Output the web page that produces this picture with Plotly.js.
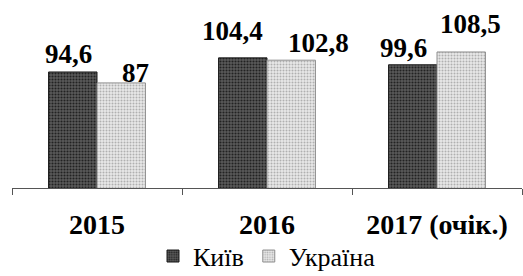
<!DOCTYPE html>
<html><head><meta charset="utf-8">
<script src="https://cdn.plot.ly/plotly-3.0.1.min.js"></script>
<style>html,body{margin:0;padding:0;background:#fff}#chart{width:523px;height:276px}</style>
</head><body><div id="chart"></div>
<script>
const categories = ['2015', '2016', '2017 (очік.)'];
const kyivValues = [94.6, 104.4, 99.6];
const ukraineValues = [87, 102.8, 108.5];
const kyivLabels = ['94,6', '104,4', '99,6'];
const ukraineLabels = ['87', '102,8', '108,5'];
const seriesNames = ['Київ', 'Україна'];
// label nudges (pixels) mimicking the hand-placed labels of the original
const kyivShiftX = [-29, -35, -34];
const kyivShiftY = [18, 27, 17];
const ukraineShiftX = [38, 51, 33];
const ukraineShiftY = [10, 17, 28];

const serif = 'Liberation Serif';

const traces = [
  {type: 'bar', name: seriesNames[0], x: categories, y: kyivValues,
   marker: {color: '#4a4a4a', line: {color: '#1a1a1a', width: 1},
            pattern: {shape: '.', bgcolor: '#5a5a5a', fgcolor: '#222222', size: 3, solidity: 0.4}},
   hoverinfo: 'none'},
  {type: 'bar', name: seriesNames[1], x: categories, y: ukraineValues,
   marker: {color: '#dcdcdc', line: {color: '#8f8f8f', width: 1},
            pattern: {shape: '.', bgcolor: '#e9e9e9', fgcolor: '#b0b0b0', size: 3, solidity: 0.35}},
   hoverinfo: 'none'}
];

const annotations = [];
categories.forEach((c, i) => {
  annotations.push({x: i, y: kyivValues[i], xref: 'x', yref: 'y', text: kyivLabels[i],
    showarrow: false, xshift: kyivShiftX[i], yshift: kyivShiftY[i], yanchor: 'middle',
    font: {family: serif, size: 27, color: '#000', weight: 'bold'}});
  annotations.push({x: i, y: ukraineValues[i], xref: 'x', yref: 'y', text: ukraineLabels[i],
    showarrow: false, xshift: ukraineShiftX[i], yshift: ukraineShiftY[i], yanchor: 'middle',
    font: {family: serif, size: 27, color: '#000', weight: 'bold'}});
});

const layout = {
  width: 523, height: 276,
  margin: {l: 12, r: 1, t: 0, b: 88},
  paper_bgcolor: '#fff', plot_bgcolor: '#fff',
  barmode: 'group', bargap: 0.43, bargroupgap: 0,
  showlegend: true,
  legend: {orientation: 'h', x: 0.5, xanchor: 'center', yref: 'container', y: 0.072, yanchor: 'middle',
           bgcolor: 'rgba(0,0,0,0)',
           font: {family: serif, size: 26, color: '#000'}, itemwidth: 30},
  xaxis: {type: 'category', showline: true, linecolor: '#555', linewidth: 1,
          ticks: 'outside', tickson: 'boundaries', ticklen: 6, tickcolor: '#555',
          showgrid: false, zeroline: false, tickangle: 0, ticklabelstandoff: 11,
          tickfont: {family: serif, size: 28, color: '#000', weight: 'bold'}},
  yaxis: {visible: false, range: [14, 144.6], showgrid: false, zeroline: false},
  annotations: annotations
};

Plotly.newPlot('chart', traces, layout, {displayModeBar: false, staticPlot: true});
</script></body></html>
